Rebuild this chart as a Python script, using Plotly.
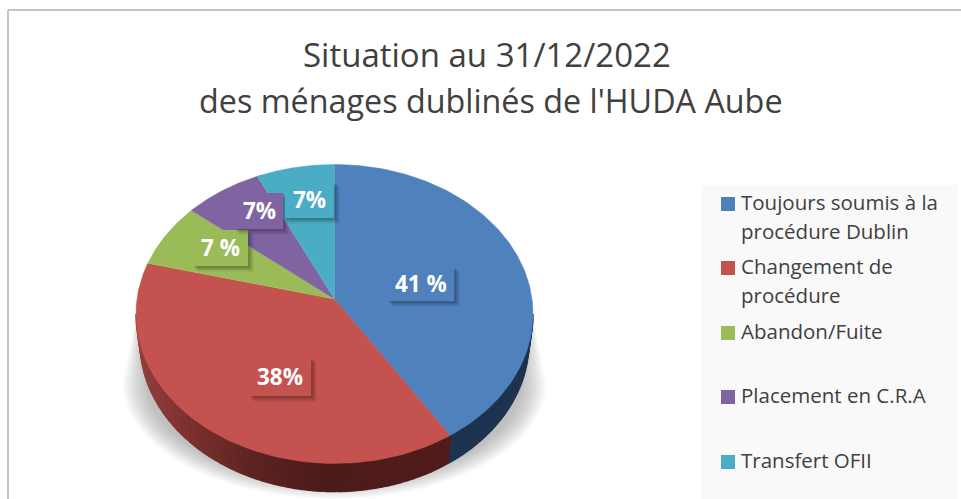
import numpy as np
import plotly.graph_objects as go

# ---- data ----
categories = ["Toujours soumis à la procédure Dublin", "Changement de procédure",
              "Abandon/Fuite", "Placement en C.R.A", "Transfert OFII"]
values = [41, 38, 7, 7, 7]
value_labels = ["41 %", "38%", "7 %", "7%", "7%"]
legend_lines = [["Toujours soumis à la", "procédure Dublin"], ["Changement de", "procédure"],
                ["Abandon/Fuite"], ["Placement en C.R.A"], ["Transfert OFII"]]
title_lines = ["Situation au 31/12/2022", "des ménages dublinés de l'HUDA Aube"]
colors = ["#4f81bd", "#c4524f", "#9bbb59", "#8064a2", "#4bacc6"]

# ---- layout constants (pixel space) ----
W, H = 961, 499
CX, CY, RX, RY = 334.5, 314.0, 198.5, 149.5
BCY, BRX, BRY = 342.0, 194.5, 149.5
TILT = -0.10
FONT = "Open Sans"
label_boxes = [(388, 267, 454, 301), (249, 358, 311, 396), (193, 230, 248, 266),
               (235, 193, 283, 229), (285, 182, 334, 218)]
legend_y = [204, 268, 333, 397, 462]
RED_WALL = [(136, (0x93, 0x41, 0x3d)), (190, (0x7c, 0x31, 0x2e)), (250, (0x5e, 0x24, 0x22)),
            (320, (0x4d, 0x1b, 0x1b)), (445, (0x52, 0x1c, 0x1c))]
BLUE_WALL = "#1d3350"


def warp(theta):
    """Angle clockwise from 12 o'clock -> unit coords after the perspective tilt."""
    u, v = np.sin(theta), -np.cos(theta)
    d = 1 + TILT * v
    return u * np.sqrt(1 - TILT ** 2) / d, (v + TILT) / d


fig = go.Figure()

# soft ground shadow: straight flanks from the rim, rounded underneath
for i in range(14):
    k = i / 13
    rx, ry = 212 - 24 * k, 116 - 16 * k
    t = np.linspace(0, np.pi, 120)
    sx = np.concatenate([[CX + RX - 3], CX + rx * np.cos(t), [CX - RX + 3]])
    sy = np.concatenate([[300], 383 + ry * np.sin(t), [300]])
    fig.add_trace(go.Scatter(x=sx, y=sy, mode="lines", fill="toself",
                             fillcolor="rgba(80,80,80,0.03)",
                             line=dict(width=0), hoverinfo="skip", showlegend=False))

# slice angles come from the values
edges = np.cumsum([0] + values) / sum(values) * 2 * np.pi

# side wall, split into strips for the shading
ux, uy = warp(edges[1])
split = np.arctan2(ux, -uy) % (2 * np.pi)
for phi0 in np.linspace(np.pi / 2, 3 * np.pi / 2, 91)[:-1]:
    phi1 = phi0 + np.pi / 90
    mid = (phi0 + phi1) / 2
    px = np.array([CX + RX * np.sin(phi0), CX + RX * np.sin(phi1),
                   CX + BRX * np.sin(phi1), CX + BRX * np.sin(phi0)])
    py = np.array([CY - RY * np.cos(phi0), CY - RY * np.cos(phi1),
                   BCY - BRY * np.cos(phi1), BCY - BRY * np.cos(phi0)])
    if mid < split:
        col = BLUE_WALL
    else:
        xm = px.mean()
        xs = [s[0] for s in RED_WALL]
        rgb = [int(np.interp(xm, xs, [s[1][c] for s in RED_WALL])) for c in range(3)]
        col = "rgb(%d,%d,%d)" % tuple(rgb)
    fig.add_trace(go.Scatter(x=px, y=py, mode="lines", fill="toself", fillcolor=col,
                             line=dict(color=col, width=1.5), hoverinfo="skip", showlegend=False))

# top face
for i, name in enumerate(categories):
    th = np.linspace(edges[i], edges[i + 1], 120)
    ux, uy = warp(th)
    xs = np.concatenate([[CX], CX + RX * ux])
    ys = np.concatenate([[CY + RY * TILT], CY + RY * uy])
    fig.add_trace(go.Scatter(x=xs, y=ys, mode="lines", fill="toself", fillcolor=colors[i],
                             line=dict(color=colors[i], width=0.5), name=name,
                             text="%s: %s" % (name, value_labels[i]), hoverinfo="text",
                             showlegend=False))

shapes = [
    dict(type="line", x0=8, y0=10, x1=961, y1=10, line=dict(color="#c4c4c4", width=2), layer="below"),
    dict(type="line", x0=8, y0=10, x1=8, y1=499, line=dict(color="#c4c4c4", width=2), layer="below"),
    dict(type="rect", x0=701, y0=185, x1=957, y1=499, fillcolor="#f9f9f9", line=dict(width=0), layer="below"),
]
annotations = []

# data-label boxes with their drop shadows
for (x0, y0, x1, y1), c, lab in zip(label_boxes, colors, value_labels):
    for off, a in ((6, 0.03), (5, 0.05), (4, 0.06), (3, 0.08), (2, 0.08)):
        shapes.append(dict(type="rect", x0=x0 + off - 1, y0=y0 + off - 1, x1=x1 + off, y1=y1 + off,
                           fillcolor="rgba(0,0,0,%g)" % a, line=dict(width=0), layer="above"))
    shapes.append(dict(type="rect", x0=x0, y0=y0, x1=x1, y1=y1, fillcolor=c, line=dict(width=0), layer="above"))
    annotations.append(dict(x=(x0 + x1) / 2, y=(y0 + y1) / 2 - 1, text=lab, showarrow=False, xref="x", yref="y",
                            font=dict(family=FONT, size=22.5, color="#ffffff", weight="bold")))

# legend
for c, lines, yc in zip(colors, legend_lines, legend_y):
    shapes.append(dict(type="rect", x0=721, y0=yc - 7, x1=735, y1=yc + 7, fillcolor=c, line=dict(width=0), layer="above"))
    for j, ln in enumerate(lines):
        annotations.append(dict(x=739, y=yc - 2 + 29 * j, text=ln, showarrow=False, xref="x", yref="y",
                                xanchor="left", font=dict(family=FONT, size=20.5, color="#404040")))

# title
for ln, yc, xc, fs in zip(title_lines, (54, 100), (486.5, 490.5), (33, 32.3)):
    annotations.append(dict(x=xc, y=yc, text=ln, showarrow=False, xref="x", yref="y",
                            font=dict(family=FONT, size=fs, color="#404040")))

fig.update_layout(
    width=W, height=H, margin=dict(l=0, r=0, t=0, b=0), showlegend=False,
    paper_bgcolor="#ffffff", plot_bgcolor="#ffffff", shapes=shapes, annotations=annotations,
    xaxis=dict(range=[0, W], visible=False, fixedrange=True),
    yaxis=dict(range=[H, 0], visible=False, fixedrange=True),
)
fig.write_html("out.html", config=dict(displayModeBar=False),
               post_script="document.body.style.margin='0';document.body.style.overflow='hidden';")
